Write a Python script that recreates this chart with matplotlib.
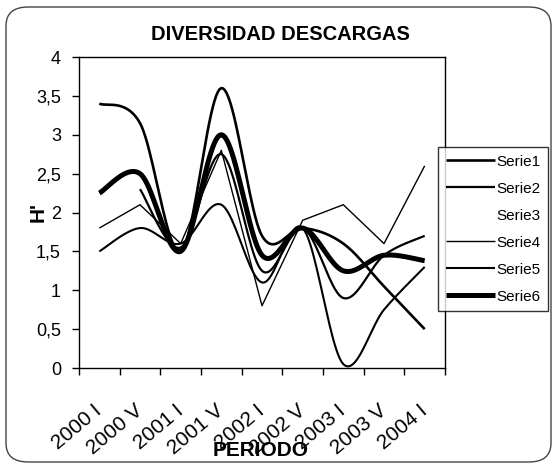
import matplotlib
matplotlib.use('Agg')
import matplotlib.pyplot as plt
import numpy as np
from matplotlib.patches import FancyBboxPatch
from matplotlib.ticker import FixedLocator, FuncFormatter, NullFormatter
from matplotlib.transforms import ScaledTranslation

plt.rcParams['font.family'] = ['Liberation Sans', 'DejaVu Sans']

periods = ["2000 I", "2000 V", "2001 I", "2001 V", "2002 I", "2002 V", "2003 I", "2003 V", "2004 I"]
nan = np.nan
serie1 = [3.4, 3.15, 1.5, 3.6, 1.7, 1.8, 1.6, 1.05, 0.5]
serie2 = [nan, 2.3, 1.55, 2.75, 1.25, 1.8, 0.9, 1.45, 1.7]
serie3 = [nan, nan, nan, nan, nan, nan, nan, nan, nan]
serie4 = [1.8, 2.1, 1.6, 2.8, 0.8, 1.9, 2.1, 1.6, 2.6]
serie5 = [1.5, 1.8, 1.6, 2.1, 1.1, 1.8, 0.05, 0.75, 1.3]
serie6 = [2.25, 2.5, 1.5, 3.0, 1.45, 1.8, 1.25, 1.45, 1.38]
names = ["Serie1", "Serie2", "Serie3", "Serie4", "Serie5", "Serie6"]


def smooth(xs, ys, n=24):
    pts = [(x, y) for x, y in zip(xs, ys) if not np.isnan(y)]
    if len(pts) < 2:
        return np.array([]), np.array([])
    p = np.array(pts, dtype=float)
    out = []
    t = np.linspace(0, 1, n)[:, None]
    for k in range(len(p) - 1):
        p0 = p[k - 1] if k > 0 else p[k]
        p1 = p[k]
        p2 = p[k + 1]
        p3 = p[k + 2] if k + 2 < len(p) else p[k + 1]
        c1 = p1 + (p2 - p0) / 6.0
        c2 = p2 - (p3 - p1) / 6.0
        seg = ((1 - t) ** 3) * p1 + 3 * ((1 - t) ** 2) * t * c1 + 3 * (1 - t) * t ** 2 * c2 + t ** 3 * p2
        out.append(seg if k == 0 else seg[1:])
    s = np.vstack(out)
    return s[:, 0], s[:, 1]


fig = plt.figure(figsize=(5.57, 4.69), dpi=100)
fig.patch.set_facecolor('white')
ax = fig.add_axes([79 / 557, 1 - 368 / 469, (445 - 79) / 557, (368 - 57) / 469])

x = np.arange(len(periods))
series = [serie1, serie2, serie3, serie4, serie5, serie6]
widths = [1.9, 1.6, 1.0, 1.0, 1.5, 3.6]
smooths = [True, True, True, False, True, True]
colors = ['black', 'black', 'none', 'black', 'black', 'black']

for ys, nm, lw, sm, c in zip(series, names, widths, smooths, colors):
    ya = np.array(ys, dtype=float)
    if sm:
        sx, sy = smooth(x, ya)
    else:
        sx, sy = x, ya
    ax.plot(sx, sy, color=c, lw=lw, label=nm, solid_capstyle='butt')

ax.set_xlim(-0.5, len(periods) - 0.5)
ax.set_ylim(0, 4)
ax.xaxis.set_major_locator(FixedLocator(np.arange(-0.5, len(periods), 1.0)))
ax.xaxis.set_major_formatter(NullFormatter())
ax.xaxis.set_minor_locator(FixedLocator(x))
ax.set_xticklabels(periods, minor=True, rotation=40, ha='right', va='top',
                   rotation_mode='anchor', fontsize=15)
ax.tick_params(axis='x', which='minor', length=0, pad=24)
ax.tick_params(axis='x', which='major', length=5, width=1, direction='out')
off = ScaledTranslation(-6 / 100, 0, fig.dpi_scale_trans)
for lbl in ax.get_xticklabels(minor=True):
    lbl.set_transform(lbl.get_transform() + off)
ax.set_yticks(np.arange(0, 4.01, 0.5))
ax.yaxis.set_major_formatter(FuncFormatter(lambda v, p: ('%g' % v).replace('.', ',')))
ax.tick_params(axis='y', length=5, width=1, direction='out', labelsize=13, pad=8)
for sp in ax.spines.values():
    sp.set_linewidth(1.0)
    sp.set_color('black')

fig.text(280 / 557, 1 - 35 / 469, "DIVERSIDAD DESCARGAS", ha='center', va='center',
         fontsize=14.5, fontweight='bold')
fig.text(38 / 557, 1 - 212 / 469, "H'", ha='center', va='center', rotation=90,
         fontsize=15, fontweight='bold')
fig.text(261 / 557, 1 - 450 / 469, "PERIODO", ha='center', va='center',
         fontsize=15, fontweight='bold')

leg = fig.legend(loc='upper left', bbox_to_anchor=(438 / 557, 1 - 147 / 469),
                 frameon=True, fancybox=False, edgecolor='black', fontsize=11,
                 handlelength=3.2, handletextpad=0.1, labelspacing=0.85,
                 borderpad=0.5, borderaxespad=0)
leg.get_frame().set_linewidth(1.0)

border = FancyBboxPatch((6 / 557, 7 / 469), 545 / 557, 455 / 469,
                        boxstyle='round,pad=0,rounding_size=0.04',
                        transform=fig.transFigure, fill=False, edgecolor='#444444', lw=1.0)
fig.patches.append(border)

fig.savefig('out.png', dpi=100, facecolor='white')
